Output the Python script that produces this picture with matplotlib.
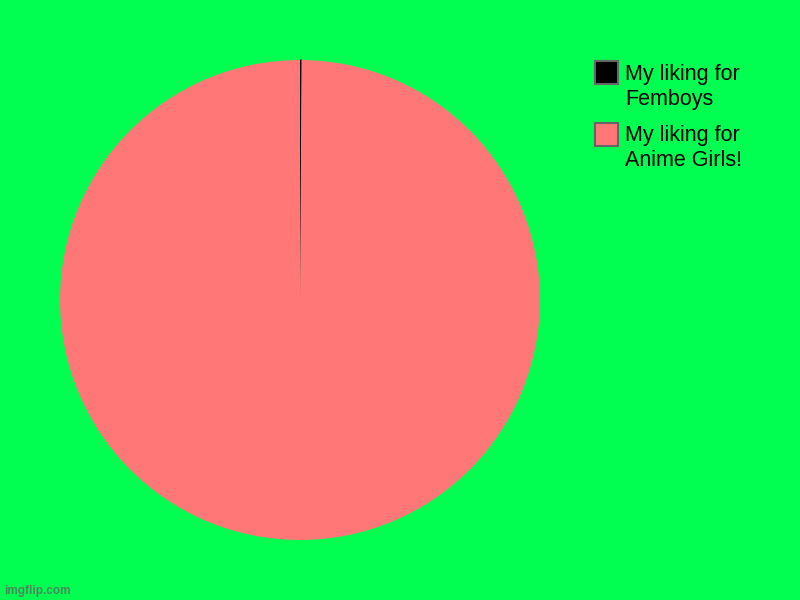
import matplotlib
matplotlib.use("Agg")
import matplotlib.pyplot as plt
from matplotlib.patches import Rectangle

categories = ["My liking for\nFemboys", "My liking for\nAnime Girls!"]
values = [0.1, 100]
colors = ["#000000", "#FF7777"]

bg = "#00FF50"
plt.rcParams['font.family'] = ['Liberation Sans', 'DejaVu Sans']

fig = plt.figure(figsize=(8, 6), dpi=100, facecolor=bg)
W, H = 800, 600
cx, cy, r = 300, 300, 240
ax = fig.add_axes([(cx - r) / W, 1 - (cy + r) / H, 2 * r / W, 2 * r / H])
ax.set_facecolor(bg)
wedges, _ = ax.pie(values, colors=colors, startangle=90, counterclock=False,
                   radius=1.0, wedgeprops=dict(linewidth=0))
wedges[0].set_edgecolor("#000000")
wedges[0].set_linewidth(0.6)
ax.set_xlim(-1, 1)
ax.set_ylim(-1, 1)
ax.set_aspect('equal')
ax.axis('off')

# legend drawn manually
box_x, box_w = 595, 23
box_tops = [61, 123]
last_baselines = [104.5, 165.5]
for i, (lab, col) in enumerate(zip(categories, colors)):
    rect = Rectangle(((box_x) / W, 1 - (box_tops[i] + box_w) / H), box_w / W, box_w / H,
                     transform=fig.transFigure, facecolor=col, edgecolor="#666666",
                     linewidth=1.5)
    fig.patches.append(rect)
    fig.text(625 / W, 1 - last_baselines[i] / H, lab, fontsize=15.5, color="#000000",
             va='baseline', ha='left', linespacing=1.22)

fig.text(4 / W, 1 - 594 / H, "imgflip.com", fontsize=8.5, color="#606060",
         fontweight='bold', alpha=0.75, va='baseline', ha='left')

fig.savefig("out.png", dpi=100, facecolor=bg)
